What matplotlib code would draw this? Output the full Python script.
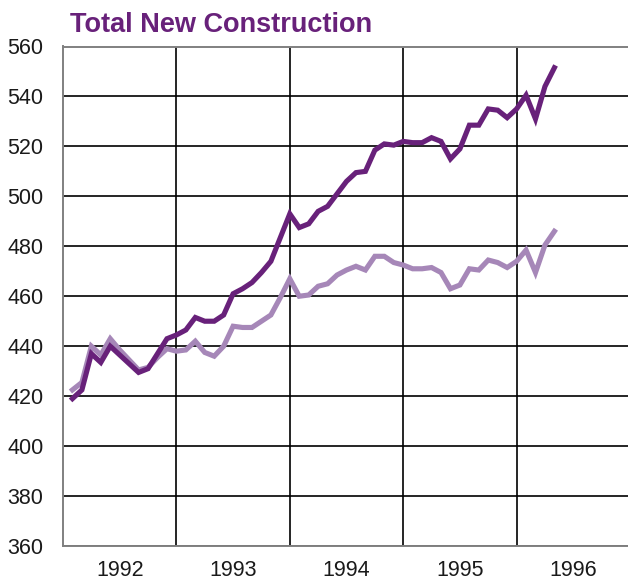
import numpy as np
import matplotlib.pyplot as plt

# monthly index, Jan 1992 = 1
months = np.arange(1, 53)
years = ['1992', '1993', '1994', '1995', '1996']

series_dark = [419, 422.5, 437, 433.5, 440, 436.5, 433, 429.5, 431, 437, 443, 444.5,
               446.5, 451.5, 450, 450, 452.5, 461, 463, 465.5, 469.5, 474, 483.5, 493,
               487.5, 489, 494, 496, 501, 506, 509.5, 510, 518.5, 521, 520.5, 522,
               521.5, 521.5, 523.5, 522, 515, 519, 528.5, 528.5, 535, 534.5, 531.5, 535,
               540.5, 531, 544, 551.5]
series_light = [422.5, 425.5, 440, 436.5, 443, 438.5, 434.5, 430.5, 431.5, 435.5, 439, 438,
                438.5, 442, 437.5, 436, 440, 448, 447.5, 447.5, 450, 452.5, 459.5, 467,
                460, 460.5, 464, 465, 468.5, 470.5, 472, 470.5, 476, 476, 473.5, 472.5,
                471, 471, 471.5, 469.5, 463, 464.5, 471, 470.5, 474.5, 473.5, 471.5, 474,
                478.5, 469.5, 480.5, 486]

dark = '#68217a'
light = '#a687b8'

plt.rcParams['font.family'] = ['Liberation Sans', 'DejaVu Sans']

fig = plt.figure(figsize=(6.28, 5.82), dpi=100)
W, H = 628, 582
ax = fig.add_axes([63 / W, (H - 546) / H, 567 / W, 499.5 / H])

ax.plot(months, series_light, color=light, lw=3.7, solid_joinstyle='miter', zorder=3)
ax.plot(months, series_dark, color=dark, lw=3.7, solid_joinstyle='miter', zorder=4)

ax.set_xlim(0, 60)
ax.set_ylim(360, 560)
ax.set_yticks(np.arange(360, 561, 20))
ax.set_xticks([12, 24, 36, 48])
ax.set_xticklabels([])
ax.set_xticks([6, 18, 30, 42, 54], minor=True)
ax.set_xticklabels(years, minor=True)
ax.tick_params(axis='both', which='both', length=0, labelsize=15.5, colors='#1a1a1a')
ax.tick_params(axis='y', pad=14)
ax.tick_params(axis='x', which='minor', pad=10)

ax.grid(True, which='major', color='black', lw=1.2, zorder=1)
for s in ['left', 'bottom', 'top']:
    ax.spines[s].set_color('#808080')
    ax.spines[s].set_linewidth(1.4)
ax.spines['right'].set_visible(False)

fig.text(70 / W, 1 - 32.5 / H, 'Total New Construction', color=dark, fontsize=19.5,
         fontweight='bold', ha='left', va='baseline')

fig.savefig('out.png', dpi=100)
